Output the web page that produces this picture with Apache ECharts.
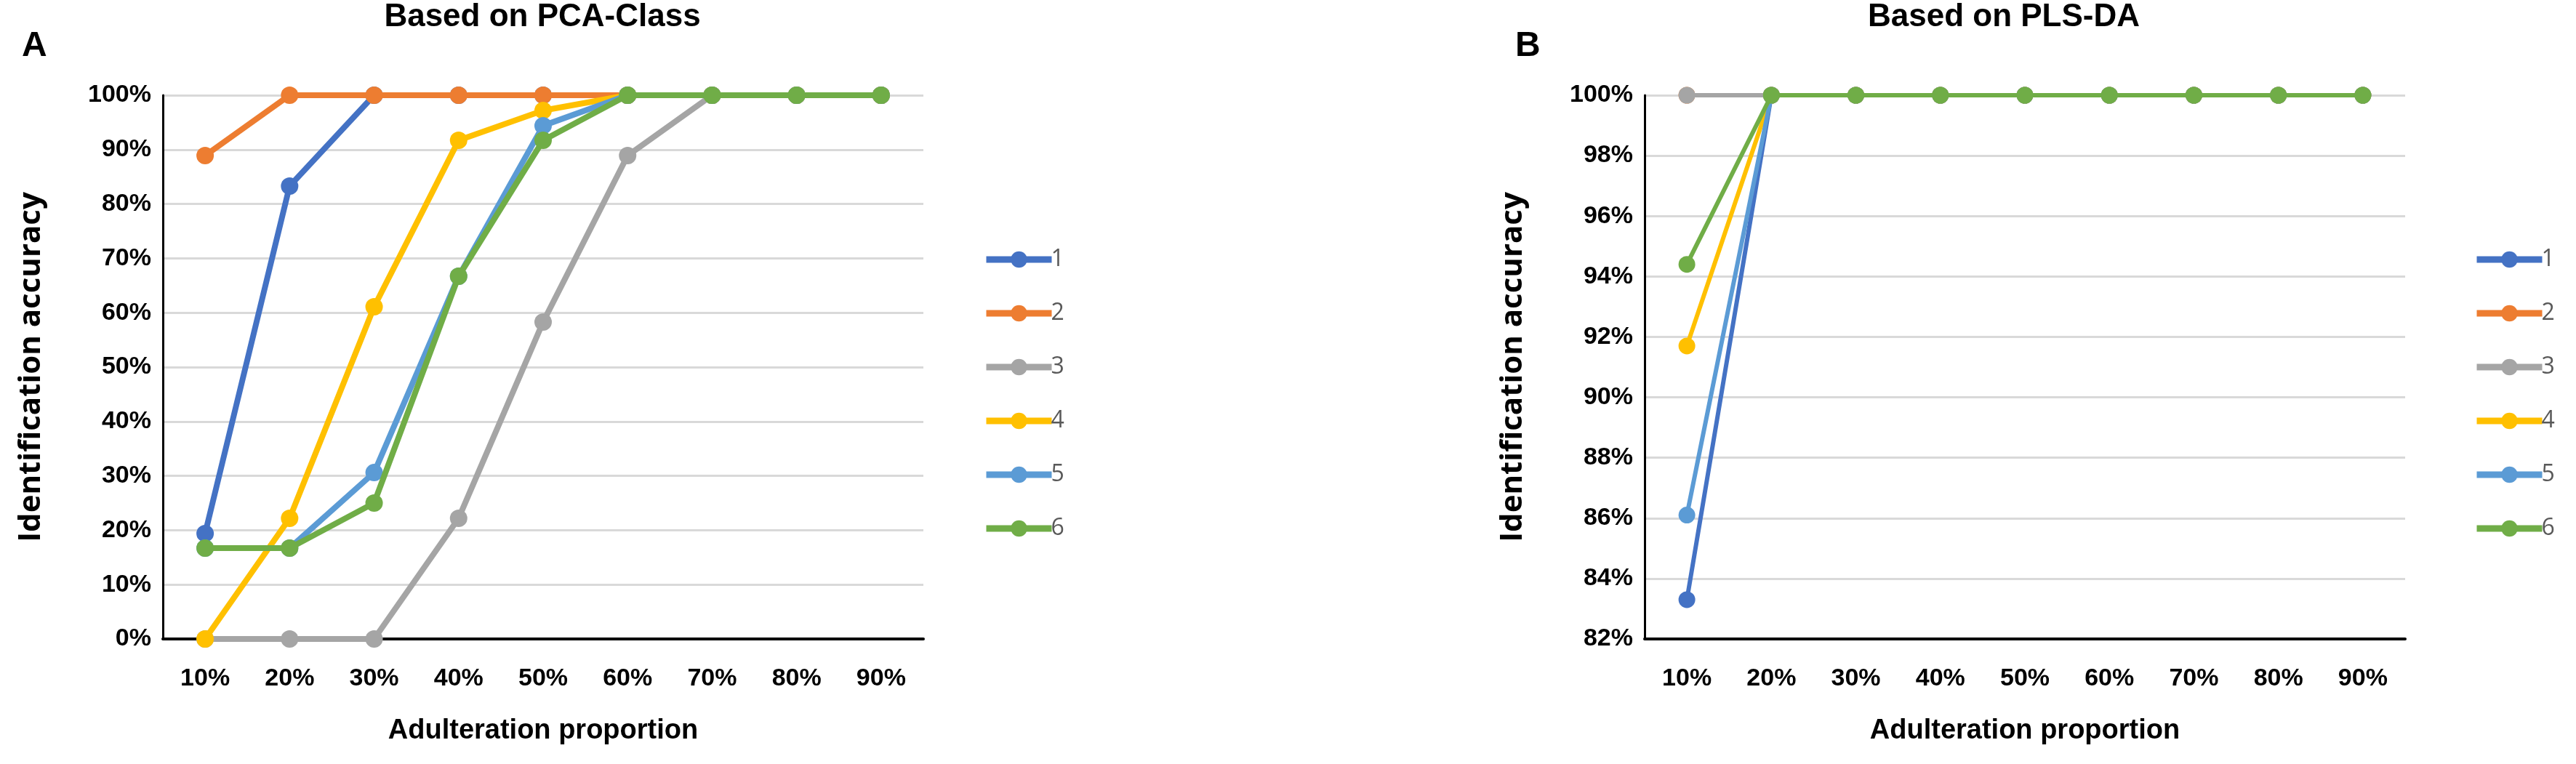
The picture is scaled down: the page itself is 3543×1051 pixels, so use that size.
<!DOCTYPE html>
<html><head><meta charset="utf-8">
<script src="https://cdn.jsdelivr.net/npm/echarts@6/dist/echarts.min.js"></script>
<style>html,body{margin:0;padding:0;background:#fff}#c{width:3543px;height:1051px}</style>
</head><body><div id="c"></div>
<script>
const categories = ['10%','20%','30%','40%','50%','60%','70%','80%','90%'];
const seriesNames = ['1','2','3','4','5','6'];
const colors = ['#4472C4','#ED7D31','#A5A5A5','#FFC000','#5B9BD5','#70AD47'];
const yTicksA = {min:0, max:100, interval:10};
const yTicksB = {min:82, max:100, interval:2};
// Panel A: Based on PCA-Class
const pca1 = [19.4, 83.3, 100, 100, 100, 100, 100, 100, 100];
const pca2 = [88.9, 100, 100, 100, 100, 100, 100, 100, 100];
const pca3 = [0, 0, 0, 22.2, 58.3, 88.9, 100, 100, 100];
const pca4 = [0, 22.2, 61.1, 91.7, 97.2, 100, 100, 100, 100];
const pca5 = [16.7, 16.7, 30.6, 66.7, 94.4, 100, 100, 100, 100];
const pca6 = [16.7, 16.7, 25.0, 66.7, 91.7, 100, 100, 100, 100];
// Panel B: Based on PLS-DA
const pls1 = [83.3, 100, 100, 100, 100, 100, 100, 100, 100];
const pls2 = [100, 100, 100, 100, 100, 100, 100, 100, 100];
const pls3 = [100, 100, 100, 100, 100, 100, 100, 100, 100];
const pls4 = [91.7, 100, 100, 100, 100, 100, 100, 100, 100];
const pls5 = [86.1, 100, 100, 100, 100, 100, 100, 100, 100];
const pls6 = [94.4, 100, 100, 100, 100, 100, 100, 100, 100];

const pcaData = [pca1, pca2, pca3, pca4, pca5, pca6];
const plsData = [pls1, pls2, pls3, pls4, pls5, pls6];

const NARROW = '"Liberation Sans Narrow","Liberation Sans",sans-serif';
const WIDE = '"Open Sans","DejaVu Sans",sans-serif';

function xAxis(gi) {
  return {
    type: 'category', gridIndex: gi, data: categories, boundaryGap: true,
    axisLine: {show: true, lineStyle: {color: '#000', width: 4}},
    axisTick: {show: false},
    axisLabel: {fontFamily: NARROW, fontWeight: 'bold', fontSize: 34, color: '#000', margin: 38},
    name: 'Adulteration proportion', nameLocation: 'middle', nameGap: 108,
    nameTextStyle: {fontFamily: NARROW, fontWeight: 'bold', fontSize: 38, color: '#000'}
  };
}
function yAxis(gi, t) {
  return {
    type: 'value', gridIndex: gi, min: t.min, max: t.max, interval: t.interval,
    axisLine: {show: true, lineStyle: {color: '#000', width: 3}},
    axisTick: {show: false},
    axisLabel: {formatter: '{value}%', fontFamily: NARROW, fontWeight: 'bold', fontSize: 34, color: '#000', margin: 16},
    splitLine: {show: true, lineStyle: {color: '#D9D9D9', width: 3}},
    name: 'Identification accuracy', nameLocation: 'middle', nameGap: 160, nameRotate: 90,
    nameTextStyle: {fontFamily: WIDE, fontWeight: 'bold', fontSize: 42, color: '#000'}
  };
}
const series = [];
seriesNames.forEach((n, i) => {
  series.push({type: 'line', name: n, xAxisIndex: 0, yAxisIndex: 0, data: pcaData[i],
    symbol: 'circle', symbolSize: 24, lineStyle: {width: 8, color: colors[i]}, itemStyle: {color: colors[i]}, z: 2 + i, animation: false});
});
seriesNames.forEach((n, i) => {
  series.push({type: 'line', name: n, xAxisIndex: 1, yAxisIndex: 1, data: plsData[i],
    symbol: 'circle', symbolSize: 23, lineStyle: {width: 6, color: colors[i]}, itemStyle: {color: colors[i]}, z: 2 + i, animation: false});
});
function legend(left) {
  return {data: seriesNames, orient: 'vertical', left: left, top: 336, itemWidth: 90, itemHeight: 28, itemGap: 42,
    selectedMode: false, lineStyle: {width: 9},
    textStyle: {fontFamily: WIDE, fontSize: 32, color: '#595959', padding: [0,0,0,-6]}};
}
const chart = echarts.init(document.getElementById('c'));
chart.setOption({
  backgroundColor: '#fff',
  animation: false,
  color: colors,
  grid: [
    {left: 224, top: 131, width: 1046, height: 748},
    {left: 2262, top: 131, width: 1046, height: 748}
  ],
  xAxis: [xAxis(0), xAxis(1)],
  yAxis: [yAxis(0, yTicksA), yAxis(1, yTicksB)],
  legend: [legend(1347), legend(3397)],
  series: series,
  graphic: [
    {type: 'text', left: 30, top: 40, style: {text: 'A', font: 'bold 48px ' + NARROW, fill: '#000'}},
    {type: 'text', left: 2084, top: 40, style: {text: 'B', font: 'bold 48px ' + NARROW, fill: '#000'}},
    {type: 'text', x: 746, y: 24, style: {text: 'Based on PCA-Class', font: 'bold 44px ' + NARROW, fill: '#000', textAlign: 'center', textVerticalAlign: 'middle'}},
    {type: 'text', x: 2756, y: 24, style: {text: 'Based on PLS-DA', font: 'bold 44px ' + NARROW, fill: '#000', textAlign: 'center', textVerticalAlign: 'middle'}}
  ]
});
</script></body></html>
